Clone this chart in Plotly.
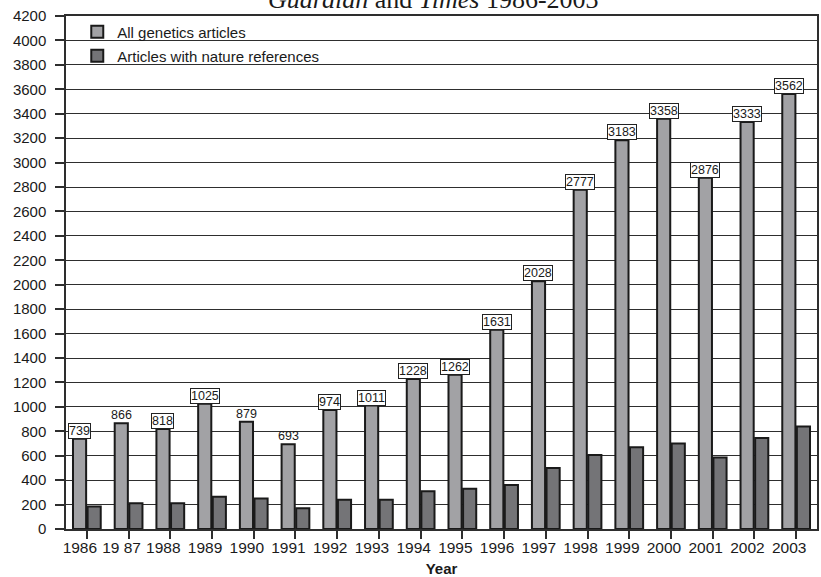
import plotly.graph_objects as go

# Yearly article counts
years = ["1986", "1987", "1988", "1989", "1990", "1991", "1992", "1993", "1994",
         "1995", "1996", "1997", "1998", "1999", "2000", "2001", "2002", "2003"]
year_labels = ["1986", "19 87", "1988", "1989", "1990", "1991", "1992", "1993", "1994",
               "1995", "1996", "1997", "1998", "1999", "2000", "2001", "2002", "2003"]
all_genetics = [739, 866, 818, 1025, 879, 693, 974, 1011, 1228,
                1262, 1631, 2028, 2777, 3183, 3358, 2876, 3333, 3562]
nature_refs = [185, 210, 210, 265, 250, 170, 240, 240, 310,
               330, 360, 500, 605, 670, 700, 585, 745, 840]
# labels drawn without a frame
unboxed_years = ["1987", "1990", "1991"]

y_ticks = list(range(0, 4201, 200))

W, H = 821, 577
M_L, M_R, M_T, M_B = 66, 2, 16, 47
BARGAP, GROUPGAP = 0.3, 0.1

LIGHT = "#a2a2a5"
DARK = "#747477"
EDGE = "#1a1a1a"
GRID = "#2e2e2e"
FONT = "Liberation Sans, Arial, sans-serif"

fig = go.Figure()
fig.add_trace(go.Bar(
    x=years, y=all_genetics, name="All genetics articles",
    marker=dict(color=LIGHT, line=dict(color=EDGE, width=2)),
    legend="legend",
))
fig.add_trace(go.Bar(
    x=years, y=nature_refs, name="Articles with nature references",
    marker=dict(color=DARK, line=dict(color=EDGE, width=2)),
    legend="legend2",
))

# horizontal offset of the first bar within each year group
plot_w = W - M_L - M_R
cat_w = plot_w / len(years)
slot = cat_w * (1 - BARGAP) / 2
light_shift = -slot / 2

for i, (yr, v) in enumerate(zip(years, all_genetics)):
    boxed = yr not in unboxed_years
    fig.add_annotation(
        x=i, y=v, xref="x", yref="y", text=str(v), showarrow=False,
        xanchor="center", yanchor="bottom", xshift=light_shift,
        font=dict(family=FONT, size=12.5, color="#1a1a1a"),
        bgcolor="white" if boxed else "rgba(0,0,0,0)",
        bordercolor="#222222" if boxed else "rgba(0,0,0,0)",
        borderwidth=1, borderpad=0,
    )

# title, partly above the top edge of the page
fig.add_annotation(
    x=0.489, y=1, xref="paper", yref="paper", showarrow=False,
    text="<i>Guardian</i> and <i>Times</i> 1986-2003",
    xanchor="center", yanchor="bottom", yshift=0,
    font=dict(family="Liberation Serif, Times New Roman, serif", size=26, color="#1a1a1a"),
)

legend_common = dict(
    xanchor="left", yanchor="middle", bgcolor="rgba(0,0,0,0)",
    font=dict(family=FONT, size=15, color="#1a1a1a"), borderwidth=0,
)

fig.update_layout(
    width=W, height=H,
    margin=dict(l=M_L, r=M_R, t=M_T, b=M_B),
    paper_bgcolor="white", plot_bgcolor="white",
    barmode="group", bargap=BARGAP, bargroupgap=GROUPGAP,
    showlegend=True,
    legend=dict(x=0.015, y=(530 - 32) / 514, **legend_common),
    legend2=dict(x=0.015, y=(530 - 56) / 514, **legend_common),
    font=dict(family=FONT, size=15, color="#1a1a1a"),
)

fig.update_xaxes(
    type="category", range=[-0.5, len(years) - 0.5],
    tickvals=years, ticktext=year_labels,
    ticks="outside", ticklen=8, tickcolor=GRID, tickwidth=1.5,
    ticklabelshift=-7, ticklabelstandoff=-4, tickangle=0,
    showline=True, linecolor=GRID, linewidth=1.5, mirror=True,
    showgrid=False,
    tickfont=dict(family=FONT, size=15.5, color="#1a1a1a"),
    title=dict(text="<b>Year</b>", font=dict(family=FONT, size=15, color="#1a1a1a"), standoff=8),
)
fig.update_yaxes(
    range=[0, 4200], tickvals=y_ticks, ticktext=[str(t) for t in y_ticks],
    ticks="outside", ticklen=9, tickcolor=GRID, tickwidth=1.5,
    ticklabelstandoff=6,
    showline=True, linecolor=GRID, linewidth=1.5, mirror=True,
    showgrid=True, gridcolor=GRID, gridwidth=1.3,
    zeroline=False,
    tickfont=dict(family=FONT, size=15, color="#1a1a1a"),
)

fig.write_html("out.html")
